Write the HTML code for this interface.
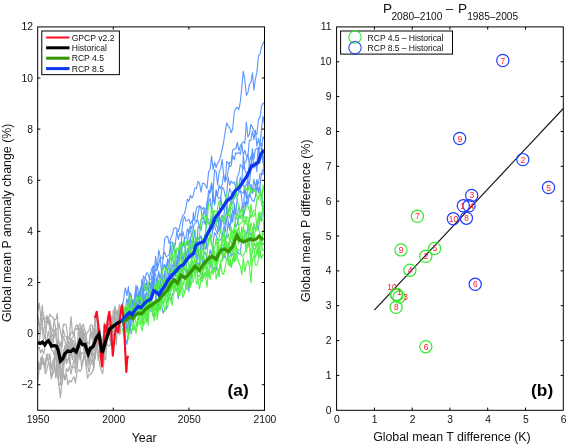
<!DOCTYPE html>
<html><head><meta charset="utf-8"><title>Figure</title>
<style>
html,body{margin:0;padding:0;background:#fff}
svg{display:block;will-change:transform;opacity:0.999}
text{font-family:"Liberation Sans",Arial,Helvetica,sans-serif;fill:#111}
.tk{font-size:10.3px}
.lb{font-size:12.4px}
.lg{font-size:8.6px}
.pn{font-size:17.3px;font-weight:bold;fill:#000}
.rd{font-size:8.4px;fill:#ff1a2e}
.tt{font-size:13.6px}
.sb{font-size:10.2px}
</style></head><body>
<svg width="568" height="445" viewBox="0 0 568 445">
<defs><filter id="soft" x="-5%" y="-5%" width="110%" height="110%"><feGaussianBlur stdDeviation="0.35"/></filter></defs>
<rect width="568" height="445" fill="#fff"/>
<g id="panel-a-lines">
<g filter="url(#soft)">
<polyline points="37.7,381.4 39.2,368.6 40.7,362.8 42.2,364.2 43.7,364.1 45.3,363.2 46.8,355.8 48.3,360.8 49.8,367.0 51.3,378.8 52.8,367.8 54.3,363.4 55.8,377.1 57.4,369.4 58.9,384.7 60.4,384.7 61.9,384.7 63.4,374.2 64.9,379.9 66.4,374.0 67.9,384.7 69.5,380.5 71.0,382.0 72.5,379.0 74.0,376.8 75.5,383.1 77.0,371.3 78.5,369.7 80.0,371.6 81.5,369.2 83.1,359.5 84.6,354.7 86.1,366.3 87.6,378.2 89.1,374.5 90.6,374.4 92.1,372.2 93.6,368.7 95.2,355.5 96.7,345.4 98.2,340.6 99.7,350.2 101.2,363.0 102.7,355.0 104.2,358.2 105.7,359.5 107.3,332.5 108.8,323.2 110.3,333.4 111.8,340.6 113.3,335.4 114.8,310.2 116.3,314.7 117.8,317.0 119.3,327.9 120.9,306.2" fill="none" stroke="#acacac" stroke-width="1.2" stroke-linejoin="round"/>
<polyline points="37.7,361.4 39.2,368.5 40.7,357.9 42.2,359.8 43.7,359.2 45.3,373.7 46.8,370.5 48.3,362.9 49.8,363.5 51.3,376.6 52.8,374.7 54.3,367.4 55.8,350.4 57.4,372.0 58.9,384.7 60.4,397.5 61.9,382.2 63.4,372.0 64.9,356.2 66.4,363.7 67.9,359.0 69.5,356.1 71.0,366.3 72.5,368.0 74.0,366.8 75.5,366.8 77.0,369.3 78.5,355.2 80.0,327.4 81.5,335.1 83.1,341.2 84.6,357.7 86.1,360.2 87.6,364.9 89.1,372.5 90.6,363.6 92.1,361.5 93.6,353.2 95.2,358.7 96.7,343.3 98.2,330.2 99.7,339.1 101.2,336.2 102.7,365.9 104.2,343.6 105.7,338.5 107.3,337.4 108.8,329.5 110.3,324.8 111.8,340.1 113.3,326.9 114.8,319.7 116.3,326.6 117.8,320.5 119.3,322.5 120.9,321.4" fill="none" stroke="#acacac" stroke-width="1.2" stroke-linejoin="round"/>
<polyline points="37.7,368.6 39.2,369.4 40.7,369.3 42.2,355.2 43.7,362.6 45.3,365.1 46.8,354.1 48.3,354.7 49.8,355.8 51.3,369.2 52.8,361.6 54.3,358.1 55.8,377.8 57.4,358.2 58.9,360.9 60.4,379.8 61.9,378.8 63.4,373.1 64.9,379.9 66.4,368.6 67.9,371.4 69.5,366.2 71.0,373.9 72.5,366.2 74.0,359.6 75.5,361.1 77.0,363.4 78.5,339.2 80.0,346.7 81.5,366.6 83.1,361.3 84.6,352.1 86.1,365.2 87.6,358.6 89.1,364.0 90.6,360.1 92.1,348.9 93.6,369.8 95.2,345.1 96.7,340.4 98.2,360.2 99.7,355.1 101.2,356.2 102.7,364.3 104.2,345.4 105.7,339.1 107.3,335.1 108.8,336.4 110.3,328.8 111.8,328.2 113.3,332.1 114.8,319.3 116.3,318.3 117.8,321.1 119.3,319.5 120.9,334.3" fill="none" stroke="#acacac" stroke-width="1.2" stroke-linejoin="round"/>
<polyline points="37.7,361.2 39.2,369.1 40.7,367.2 42.2,360.9 43.7,364.5 45.3,369.2 46.8,354.6 48.3,360.7 49.8,353.8 51.3,367.4 52.8,363.6 54.3,358.2 55.8,344.4 57.4,362.1 58.9,384.7 60.4,384.7 61.9,370.7 63.4,363.7 64.9,357.6 66.4,351.4 67.9,343.6 69.5,363.9 71.0,338.9 72.5,340.8 74.0,353.4 75.5,372.5 77.0,355.5 78.5,345.1 80.0,359.7 81.5,352.5 83.1,353.5 84.6,354.2 86.1,349.3 87.6,359.7 89.1,358.4 90.6,359.0 92.1,363.5 93.6,365.3 95.2,352.4 96.7,345.3 98.2,351.3 99.7,365.2 101.2,370.4 102.7,373.8 104.2,358.4 105.7,339.5 107.3,345.0 108.8,345.9 110.3,345.3 111.8,324.3 113.3,326.8 114.8,324.8 116.3,318.4 117.8,322.5 119.3,323.5 120.9,328.7" fill="none" stroke="#acacac" stroke-width="1.2" stroke-linejoin="round"/>
<polyline points="37.7,348.7 39.2,347.2 40.7,352.8 42.2,349.4 43.7,353.9 45.3,345.5 46.8,340.8 48.3,338.6 49.8,339.2 51.3,349.1 52.8,351.2 54.3,355.0 55.8,344.4 57.4,354.2 58.9,340.2 60.4,376.6 61.9,369.2 63.4,365.1 64.9,352.8 66.4,357.0 67.9,346.6 69.5,352.7 71.0,340.8 72.5,348.8 74.0,346.9 75.5,343.9 77.0,356.3 78.5,345.8 80.0,339.0 81.5,339.8 83.1,329.1 84.6,345.0 86.1,340.7 87.6,350.1 89.1,365.4 90.6,347.3 92.1,352.0 93.6,349.9 95.2,340.2 96.7,344.0 98.2,334.9 99.7,344.5 101.2,351.8 102.7,364.5 104.2,352.8 105.7,339.6 107.3,337.8 108.8,337.4 110.3,340.9 111.8,327.7 113.3,335.7 114.8,328.0 116.3,321.6 117.8,324.3 119.3,332.9 120.9,324.8" fill="none" stroke="#acacac" stroke-width="1.2" stroke-linejoin="round"/>
<polyline points="37.7,334.9 39.2,330.3 40.7,315.2 42.2,323.6 43.7,332.5 45.3,340.1 46.8,315.4 48.3,319.2 49.8,329.2 51.3,343.8 52.8,343.7 54.3,334.0 55.8,328.9 57.4,361.1 58.9,345.0 60.4,377.5 61.9,373.4 63.4,350.2 64.9,349.0 66.4,348.0 67.9,339.6 69.5,346.7 71.0,355.3 72.5,340.3 74.0,341.5 75.5,354.3 77.0,353.9 78.5,340.6 80.0,342.0 81.5,339.4 83.1,335.9 84.6,354.0 86.1,351.3 87.6,347.1 89.1,354.8 90.6,347.9 92.1,345.2 93.6,339.6 95.2,328.7 96.7,344.4 98.2,329.0 99.7,336.3 101.2,339.6 102.7,364.3 104.2,347.1 105.7,341.9 107.3,325.7 108.8,335.8 110.3,331.0 111.8,319.4 113.3,330.8 114.8,324.8 116.3,344.9 117.8,321.4 119.3,334.8 120.9,326.5" fill="none" stroke="#acacac" stroke-width="1.2" stroke-linejoin="round"/>
<polyline points="37.7,342.9 39.2,343.4 40.7,328.1 42.2,327.6 43.7,344.5 45.3,344.8 46.8,339.2 48.3,331.4 49.8,340.4 51.3,331.8 52.8,336.1 54.3,337.4 55.8,332.6 57.4,341.7 58.9,370.9 60.4,367.9 61.9,356.7 63.4,352.7 64.9,345.7 66.4,360.8 67.9,360.8 69.5,353.9 71.0,353.8 72.5,359.7 74.0,344.0 75.5,362.6 77.0,346.9 78.5,346.0 80.0,338.4 81.5,335.2 83.1,343.0 84.6,333.3 86.1,349.6 87.6,342.6 89.1,343.2 90.6,333.9 92.1,332.0 93.6,337.0 95.2,318.3 96.7,336.3 98.2,334.6 99.7,328.5 101.2,347.7 102.7,357.3 104.2,322.9 105.7,337.1 107.3,334.7 108.8,335.8 110.3,320.1 111.8,317.6 113.3,323.8 114.8,329.6 116.3,330.8 117.8,321.3 119.3,325.2 120.9,330.3" fill="none" stroke="#acacac" stroke-width="1.2" stroke-linejoin="round"/>
<polyline points="37.7,324.9 39.2,323.5 40.7,325.5 42.2,321.3 43.7,315.3 45.3,332.8 46.8,322.4 48.3,317.0 49.8,324.3 51.3,335.5 52.8,342.7 54.3,329.3 55.8,332.0 57.4,350.1 58.9,357.7 60.4,342.3 61.9,347.7 63.4,336.1 64.9,340.9 66.4,347.8 67.9,337.5 69.5,339.4 71.0,332.1 72.5,332.8 74.0,333.2 75.5,342.5 77.0,349.0 78.5,328.6 80.0,339.4 81.5,326.8 83.1,330.7 84.6,335.6 86.1,348.5 87.6,346.9 89.1,357.4 90.6,349.4 92.1,350.7 93.6,336.7 95.2,333.9 96.7,347.6 98.2,322.0 99.7,345.8 101.2,344.3 102.7,343.3 104.2,347.1 105.7,332.7 107.3,335.3 108.8,330.0 110.3,335.5 111.8,331.4 113.3,310.1 114.8,311.4 116.3,327.2 117.8,310.0 119.3,311.3 120.9,308.6" fill="none" stroke="#acacac" stroke-width="1.2" stroke-linejoin="round"/>
<polyline points="37.7,314.0 39.2,325.9 40.7,330.0 42.2,305.1 43.7,318.7 45.3,322.3 46.8,321.2 48.3,319.4 49.8,314.2 51.3,316.4 52.8,317.0 54.3,320.8 55.8,329.1 57.4,329.2 58.9,323.1 60.4,331.2 61.9,338.4 63.4,330.1 64.9,336.3 66.4,336.9 67.9,344.3 69.5,343.3 71.0,338.4 72.5,337.7 74.0,334.1 75.5,326.6 77.0,324.7 78.5,329.8 80.0,328.3 81.5,332.6 83.1,338.5 84.6,333.6 86.1,334.9 87.6,332.0 89.1,329.8 90.6,324.9 92.1,325.0 93.6,335.3 95.2,317.1 96.7,318.3 98.2,327.3 99.7,332.9 101.2,339.4 102.7,341.6 104.2,326.9 105.7,324.7 107.3,322.0 108.8,319.9 110.3,314.3 111.8,318.8 113.3,316.9 114.8,320.5 116.3,329.8 117.8,316.4 119.3,304.7 120.9,321.0" fill="none" stroke="#acacac" stroke-width="1.2" stroke-linejoin="round"/>
<polyline points="37.7,311.1 39.2,303.0 40.7,316.1 42.2,312.1 43.7,319.0 45.3,318.0 46.8,320.0 48.3,324.1 49.8,319.8 51.3,327.6 52.8,331.8 54.3,319.4 55.8,319.7 57.4,313.5 58.9,351.8 60.4,366.2 61.9,336.4 63.4,324.5 64.9,324.2 66.4,326.2 67.9,338.6 69.5,336.1 71.0,316.5 72.5,333.6 74.0,332.0 75.5,328.3 77.0,329.6 78.5,326.8 80.0,323.6 81.5,328.9 83.1,324.0 84.6,329.0 86.1,335.5 87.6,345.9 89.1,351.5 90.6,328.6 92.1,339.5 93.6,333.4 95.2,335.3 96.7,340.1 98.2,338.1 99.7,330.0 101.2,349.2 102.7,345.1 104.2,344.5 105.7,333.6 107.3,325.9 108.8,329.5 110.3,322.7 111.8,328.7 113.3,319.0 114.8,306.2 116.3,311.3 117.8,318.2 119.3,313.0 120.9,310.4" fill="none" stroke="#acacac" stroke-width="1.2" stroke-linejoin="round"/>
<polyline points="122.4,304.7 123.9,331.1 125.4,338.7 126.9,344.4 128.4,333.6 129.9,313.6 131.4,298.2 133.0,310.2 134.5,310.6 136.0,304.3 137.5,308.9 139.0,299.4 140.5,303.6 142.0,300.3 143.5,299.8 145.1,310.6 146.6,308.6 148.1,318.0 149.6,297.7 151.1,311.6 152.6,310.9 154.1,303.3 155.6,300.7 157.1,302.8 158.7,310.7 160.2,305.6 161.7,306.7 163.2,313.3 164.7,308.9 166.2,309.5 167.7,295.2 169.2,297.0 170.8,301.1 172.3,294.9 173.8,291.6 175.3,290.4 176.8,288.2 178.3,298.9 179.8,284.7 181.3,273.2 182.9,269.5 184.4,268.4 185.9,269.8 187.4,258.3 188.9,264.3 190.4,276.3 191.9,271.6 193.4,272.0 194.9,269.4 196.5,267.3 198.0,267.5 199.5,262.5 201.0,274.9 202.5,277.2 204.0,273.6 205.5,273.2 207.0,275.8 208.6,273.0 210.1,266.6 211.6,257.6 213.1,269.4 214.6,267.4 216.1,270.4 217.6,261.0 219.1,256.0 220.7,247.8 222.2,247.4 223.7,258.3 225.2,255.5 226.7,260.6 228.2,258.6 229.7,246.5 231.2,256.6 232.7,253.7 234.3,255.8 235.8,253.7 237.3,250.6 238.8,253.8 240.3,254.3 241.8,237.2 243.3,238.6 244.8,236.5 246.4,234.0 247.9,226.8 249.4,231.8 250.9,234.7 252.4,239.9 253.9,224.4 255.4,229.2 256.9,226.3 258.5,228.7 260.0,215.7 261.5,220.9 263.0,203.5 264.5,218.8" fill="none" stroke="#5a96ff" stroke-width="1.1" stroke-linejoin="round"/>
<polyline points="122.4,327.0 123.9,322.5 125.4,313.4 126.9,319.0 128.4,313.0 129.9,312.0 131.4,314.4 133.0,314.0 134.5,308.6 136.0,311.8 137.5,300.5 139.0,314.9 140.5,304.4 142.0,314.1 143.5,296.3 145.1,299.6 146.6,312.2 148.1,325.4 149.6,302.1 151.1,307.0 152.6,302.0 154.1,306.7 155.6,300.7 157.1,319.6 158.7,308.3 160.2,296.5 161.7,299.8 163.2,296.2 164.7,295.0 166.2,293.6 167.7,289.4 169.2,291.1 170.8,290.9 172.3,286.7 173.8,288.6 175.3,278.4 176.8,284.2 178.3,282.3 179.8,277.2 181.3,277.0 182.9,267.2 184.4,267.2 185.9,262.7 187.4,278.8 188.9,272.4 190.4,287.2 191.9,268.5 193.4,270.5 194.9,271.6 196.5,265.0 198.0,276.7 199.5,275.0 201.0,280.4 202.5,274.8 204.0,261.4 205.5,262.6 207.0,271.7 208.6,273.0 210.1,258.6 211.6,259.9 213.1,272.2 214.6,270.1 216.1,265.2 217.6,268.9 219.1,269.7 220.7,260.8 222.2,261.1 223.7,256.2 225.2,253.2 226.7,241.0 228.2,264.9 229.7,260.3 231.2,267.5 232.7,258.1 234.3,262.4 235.8,242.6 237.3,256.5 238.8,263.1 240.3,265.8 241.8,274.7 243.3,257.8 244.8,271.6 246.4,264.4 247.9,260.4 249.4,266.2 250.9,282.7 252.4,260.9 253.9,255.2 255.4,265.4 256.9,265.2 258.5,259.4 260.0,251.3 261.5,258.3 263.0,254.5 264.5,255.1" fill="none" stroke="#52f046" stroke-width="1.1" stroke-linejoin="round"/>
<polyline points="122.4,322.9 123.9,321.9 125.4,310.5 126.9,314.5 128.4,308.9 129.9,303.3 131.4,314.7 133.0,300.0 134.5,306.9 136.0,302.2 137.5,310.1 139.0,310.4 140.5,309.8 142.0,304.8 143.5,304.2 145.1,298.5 146.6,304.9 148.1,297.3 149.6,282.3 151.1,284.1 152.6,291.0 154.1,279.4 155.6,286.1 157.1,290.4 158.7,285.6 160.2,293.9 161.7,286.0 163.2,281.9 164.7,280.1 166.2,281.9 167.7,290.5 169.2,287.4 170.8,276.3 172.3,278.9 173.8,264.8 175.3,272.0 176.8,274.7 178.3,278.2 179.8,277.6 181.3,268.1 182.9,273.5 184.4,278.1 185.9,278.9 187.4,269.3 188.9,291.8 190.4,270.8 191.9,278.5 193.4,267.5 194.9,273.5 196.5,259.5 198.0,266.1 199.5,262.3 201.0,252.1 202.5,264.4 204.0,253.7 205.5,252.5 207.0,260.1 208.6,263.9 210.1,249.9 211.6,255.6 213.1,242.6 214.6,232.7 216.1,235.3 217.6,240.0 219.1,240.3 220.7,239.9 222.2,235.6 223.7,227.0 225.2,241.1 226.7,235.3 228.2,222.3 229.7,230.5 231.2,213.5 232.7,222.1 234.3,206.5 235.8,227.0 237.3,224.3 238.8,216.1 240.3,218.1 241.8,214.6 243.3,216.7 244.8,210.7 246.4,200.6 247.9,204.8 249.4,193.3 250.9,196.9 252.4,200.7 253.9,201.5 255.4,196.7 256.9,186.2 258.5,192.8 260.0,187.9 261.5,194.5 263.0,202.8 264.5,201.8" fill="none" stroke="#5a96ff" stroke-width="1.1" stroke-linejoin="round"/>
<polyline points="122.4,322.7 123.9,317.4 125.4,321.6 126.9,329.8 128.4,332.4 129.9,314.9 131.4,320.2 133.0,317.0 134.5,329.4 136.0,327.2 137.5,319.0 139.0,315.3 140.5,315.3 142.0,318.2 143.5,325.6 145.1,321.4 146.6,315.6 148.1,312.0 149.6,309.6 151.1,303.2 152.6,306.0 154.1,320.8 155.6,314.2 157.1,312.6 158.7,304.7 160.2,298.8 161.7,306.9 163.2,292.3 164.7,293.4 166.2,303.8 167.7,298.3 169.2,287.0 170.8,291.8 172.3,287.7 173.8,282.6 175.3,286.4 176.8,284.4 178.3,290.5 179.8,295.5 181.3,285.8 182.9,297.5 184.4,293.3 185.9,286.6 187.4,286.4 188.9,284.6 190.4,286.8 191.9,281.8 193.4,265.2 194.9,269.3 196.5,284.0 198.0,281.1 199.5,288.8 201.0,280.2 202.5,281.5 204.0,272.9 205.5,277.0 207.0,287.3 208.6,270.9 210.1,279.2 211.6,270.0 213.1,274.4 214.6,269.9 216.1,270.0 217.6,271.1 219.1,276.9 220.7,262.6 222.2,273.7 223.7,274.3 225.2,266.8 226.7,259.7 228.2,256.2 229.7,266.2 231.2,265.0 232.7,261.9 234.3,252.9 235.8,261.2 237.3,248.9 238.8,249.9 240.3,251.4 241.8,256.3 243.3,255.9 244.8,253.0 246.4,248.5 247.9,247.4 249.4,240.7 250.9,266.0 252.4,245.8 253.9,249.4 255.4,257.7 256.9,253.2 258.5,249.8 260.0,238.4 261.5,246.0 263.0,250.8 264.5,249.3" fill="none" stroke="#52f046" stroke-width="1.1" stroke-linejoin="round"/>
<polyline points="122.4,307.0 123.9,296.9 125.4,287.9 126.9,295.7 128.4,286.5 129.9,305.3 131.4,303.3 133.0,305.0 134.5,299.9 136.0,298.2 137.5,302.0 139.0,296.8 140.5,291.4 142.0,290.2 143.5,306.3 145.1,303.8 146.6,302.4 148.1,305.3 149.6,293.6 151.1,293.2 152.6,289.3 154.1,276.8 155.6,293.4 157.1,302.0 158.7,302.2 160.2,287.3 161.7,271.1 163.2,288.8 164.7,270.7 166.2,281.7 167.7,279.4 169.2,272.7 170.8,268.4 172.3,278.0 173.8,275.8 175.3,274.6 176.8,261.5 178.3,258.7 179.8,264.0 181.3,267.4 182.9,268.4 184.4,264.1 185.9,253.8 187.4,253.5 188.9,250.1 190.4,250.6 191.9,258.2 193.4,254.2 194.9,241.9 196.5,262.9 198.0,263.4 199.5,263.9 201.0,241.2 202.5,250.6 204.0,246.4 205.5,238.6 207.0,249.2 208.6,240.2 210.1,236.3 211.6,237.5 213.1,226.5 214.6,226.5 216.1,230.6 217.6,234.4 219.1,214.9 220.7,223.4 222.2,219.5 223.7,222.6 225.2,224.3 226.7,207.9 228.2,221.5 229.7,225.6 231.2,222.4 232.7,209.9 234.3,214.4 235.8,212.9 237.3,215.8 238.8,205.6 240.3,211.6 241.8,211.2 243.3,208.9 244.8,201.7 246.4,205.0 247.9,195.0 249.4,196.8 250.9,188.1 252.4,193.4 253.9,188.3 255.4,190.2 256.9,179.9 258.5,183.9 260.0,173.7 261.5,174.1 263.0,169.2 264.5,169.5" fill="none" stroke="#5a96ff" stroke-width="1.1" stroke-linejoin="round"/>
<polyline points="122.4,312.4 123.9,323.3 125.4,335.5 126.9,324.8 128.4,329.3 129.9,325.0 131.4,325.6 133.0,316.4 134.5,312.9 136.0,305.5 137.5,313.0 139.0,317.1 140.5,309.5 142.0,310.8 143.5,323.5 145.1,302.1 146.6,322.5 148.1,313.9 149.6,309.9 151.1,303.8 152.6,308.8 154.1,318.0 155.6,299.6 157.1,301.7 158.7,303.9 160.2,310.1 161.7,298.8 163.2,300.3 164.7,311.6 166.2,304.4 167.7,307.6 169.2,293.3 170.8,300.6 172.3,305.2 173.8,288.8 175.3,287.3 176.8,291.1 178.3,295.4 179.8,264.6 181.3,273.9 182.9,278.7 184.4,278.4 185.9,288.3 187.4,289.6 188.9,275.3 190.4,280.9 191.9,282.3 193.4,281.5 194.9,271.2 196.5,268.3 198.0,268.0 199.5,271.4 201.0,273.0 202.5,279.2 204.0,277.5 205.5,271.5 207.0,277.0 208.6,275.8 210.1,272.4 211.6,271.5 213.1,259.1 214.6,256.2 216.1,279.2 217.6,273.2 219.1,269.5 220.7,261.2 222.2,258.9 223.7,253.1 225.2,255.8 226.7,242.4 228.2,257.4 229.7,255.5 231.2,267.2 232.7,260.3 234.3,248.0 235.8,233.8 237.3,239.0 238.8,244.0 240.3,234.3 241.8,234.0 243.3,243.6 244.8,241.3 246.4,251.7 247.9,237.6 249.4,232.1 250.9,240.0 252.4,246.2 253.9,248.7 255.4,249.3 256.9,243.8 258.5,242.0 260.0,257.5 261.5,243.2 263.0,244.9 264.5,241.9" fill="none" stroke="#52f046" stroke-width="1.1" stroke-linejoin="round"/>
<polyline points="122.4,303.5 123.9,313.1 125.4,319.1 126.9,309.8 128.4,309.7 129.9,300.7 131.4,299.9 133.0,308.0 134.5,307.6 136.0,290.9 137.5,297.4 139.0,302.7 140.5,287.9 142.0,289.0 143.5,284.9 145.1,279.5 146.6,280.0 148.1,285.5 149.6,282.9 151.1,290.5 152.6,288.2 154.1,283.4 155.6,289.7 157.1,288.8 158.7,290.7 160.2,287.2 161.7,294.0 163.2,287.3 164.7,291.6 166.2,289.4 167.7,277.4 169.2,272.9 170.8,276.7 172.3,272.5 173.8,264.2 175.3,276.7 176.8,265.4 178.3,259.8 179.8,249.7 181.3,256.6 182.9,264.4 184.4,256.1 185.9,243.0 187.4,241.8 188.9,247.1 190.4,238.7 191.9,245.1 193.4,240.4 194.9,246.8 196.5,238.3 198.0,259.4 199.5,237.5 201.0,236.0 202.5,239.4 204.0,247.5 205.5,249.3 207.0,238.6 208.6,232.3 210.1,232.3 211.6,228.4 213.1,214.5 214.6,222.1 216.1,225.1 217.6,228.1 219.1,231.6 220.7,219.1 222.2,215.0 223.7,222.5 225.2,232.2 226.7,219.3 228.2,211.3 229.7,210.0 231.2,204.8 232.7,191.8 234.3,196.8 235.8,190.2 237.3,184.9 238.8,192.5 240.3,189.9 241.8,198.0 243.3,216.5 244.8,185.6 246.4,184.9 247.9,179.6 249.4,187.9 250.9,184.2 252.4,192.0 253.9,179.1 255.4,187.4 256.9,179.7 258.5,191.4 260.0,185.6 261.5,173.5 263.0,174.6 264.5,161.3" fill="none" stroke="#5a96ff" stroke-width="1.1" stroke-linejoin="round"/>
<polyline points="122.4,315.6 123.9,314.6 125.4,310.0 126.9,316.3 128.4,308.3 129.9,313.9 131.4,318.5 133.0,299.2 134.5,308.0 136.0,297.6 137.5,310.0 139.0,306.6 140.5,310.2 142.0,315.4 143.5,312.4 145.1,311.2 146.6,301.8 148.1,304.6 149.6,304.1 151.1,298.7 152.6,306.9 154.1,307.5 155.6,300.2 157.1,312.4 158.7,302.6 160.2,300.3 161.7,300.2 163.2,298.9 164.7,299.0 166.2,286.3 167.7,292.4 169.2,289.1 170.8,295.1 172.3,294.0 173.8,294.0 175.3,280.4 176.8,285.4 178.3,295.7 179.8,288.2 181.3,278.6 182.9,286.0 184.4,278.9 185.9,276.0 187.4,274.9 188.9,273.6 190.4,276.7 191.9,262.0 193.4,263.2 194.9,259.9 196.5,270.1 198.0,281.1 199.5,279.0 201.0,279.2 202.5,275.6 204.0,256.9 205.5,263.9 207.0,257.8 208.6,255.7 210.1,265.2 211.6,256.4 213.1,249.8 214.6,261.3 216.1,260.1 217.6,249.5 219.1,251.3 220.7,245.1 222.2,244.0 223.7,247.9 225.2,251.3 226.7,245.8 228.2,251.5 229.7,251.5 231.2,254.3 232.7,251.2 234.3,245.7 235.8,233.6 237.3,232.8 238.8,225.9 240.3,239.2 241.8,240.4 243.3,239.8 244.8,229.5 246.4,240.9 247.9,226.7 249.4,245.2 250.9,255.4 252.4,254.1 253.9,242.0 255.4,246.0 256.9,254.4 258.5,243.2 260.0,240.5 261.5,245.7 263.0,230.3 264.5,226.4" fill="none" stroke="#52f046" stroke-width="1.1" stroke-linejoin="round"/>
<polyline points="122.4,330.5 123.9,326.2 125.4,329.4 126.9,316.5 128.4,313.8 129.9,328.2 131.4,313.3 133.0,301.7 134.5,309.4 136.0,304.8 137.5,307.5 139.0,304.8 140.5,298.5 142.0,293.7 143.5,303.0 145.1,293.5 146.6,297.1 148.1,301.8 149.6,304.3 151.1,283.1 152.6,295.5 154.1,284.1 155.6,289.4 157.1,292.4 158.7,296.8 160.2,283.4 161.7,285.5 163.2,285.2 164.7,277.1 166.2,281.7 167.7,267.7 169.2,268.8 170.8,274.2 172.3,280.3 173.8,271.5 175.3,267.1 176.8,264.6 178.3,258.1 179.8,265.2 181.3,267.3 182.9,253.8 184.4,263.5 185.9,259.7 187.4,260.0 188.9,240.5 190.4,250.6 191.9,242.3 193.4,249.1 194.9,241.3 196.5,245.7 198.0,237.2 199.5,239.0 201.0,236.8 202.5,246.0 204.0,239.6 205.5,233.0 207.0,222.0 208.6,223.3 210.1,227.2 211.6,225.1 213.1,229.5 214.6,222.4 216.1,214.1 217.6,221.6 219.1,212.2 220.7,229.8 222.2,218.8 223.7,217.1 225.2,204.2 226.7,196.3 228.2,215.1 229.7,206.5 231.2,198.6 232.7,203.2 234.3,203.5 235.8,213.4 237.3,196.9 238.8,191.7 240.3,190.7 241.8,192.4 243.3,193.3 244.8,186.4 246.4,199.1 247.9,182.9 249.4,183.8 250.9,169.5 252.4,151.4 253.9,168.1 255.4,161.6 256.9,171.8 258.5,147.3 260.0,157.0 261.5,153.2 263.0,161.7 264.5,171.8" fill="none" stroke="#5a96ff" stroke-width="1.1" stroke-linejoin="round"/>
<polyline points="122.4,322.5 123.9,320.6 125.4,327.1 126.9,331.5 128.4,322.8 129.9,321.8 131.4,322.5 133.0,330.3 134.5,324.6 136.0,333.4 137.5,321.6 139.0,324.2 140.5,322.4 142.0,315.5 143.5,310.9 145.1,317.7 146.6,304.7 148.1,305.2 149.6,297.7 151.1,300.5 152.6,316.0 154.1,316.1 155.6,307.6 157.1,312.5 158.7,309.4 160.2,299.6 161.7,297.7 163.2,304.8 164.7,300.5 166.2,295.2 167.7,297.3 169.2,285.6 170.8,289.9 172.3,281.7 173.8,288.3 175.3,289.3 176.8,288.5 178.3,284.5 179.8,282.3 181.3,283.7 182.9,289.4 184.4,293.4 185.9,288.5 187.4,276.3 188.9,270.0 190.4,274.3 191.9,266.2 193.4,265.6 194.9,270.0 196.5,264.0 198.0,264.2 199.5,269.8 201.0,273.0 202.5,270.2 204.0,269.7 205.5,265.6 207.0,273.5 208.6,257.8 210.1,260.4 211.6,259.1 213.1,256.2 214.6,265.0 216.1,264.7 217.6,253.1 219.1,253.7 220.7,246.4 222.2,242.1 223.7,239.8 225.2,255.8 226.7,250.5 228.2,242.2 229.7,245.1 231.2,251.0 232.7,251.6 234.3,232.8 235.8,231.4 237.3,231.4 238.8,238.2 240.3,237.1 241.8,226.9 243.3,241.7 244.8,238.4 246.4,245.7 247.9,244.9 249.4,242.5 250.9,237.4 252.4,246.9 253.9,244.1 255.4,245.6 256.9,242.0 258.5,257.4 260.0,244.6 261.5,242.3 263.0,244.3 264.5,244.1" fill="none" stroke="#52f046" stroke-width="1.1" stroke-linejoin="round"/>
<polyline points="122.4,325.1 123.9,311.5 125.4,311.9 126.9,316.1 128.4,316.5 129.9,315.3 131.4,310.8 133.0,310.4 134.5,298.5 136.0,285.0 137.5,298.6 139.0,303.6 140.5,294.9 142.0,280.9 143.5,294.3 145.1,300.4 146.6,292.2 148.1,296.0 149.6,277.0 151.1,271.2 152.6,266.4 154.1,281.0 155.6,279.7 157.1,280.0 158.7,273.4 160.2,279.3 161.7,270.6 163.2,269.3 164.7,264.7 166.2,270.0 167.7,262.2 169.2,270.4 170.8,269.9 172.3,265.1 173.8,268.0 175.3,262.2 176.8,260.4 178.3,254.1 179.8,259.1 181.3,242.3 182.9,246.1 184.4,238.0 185.9,256.9 187.4,248.5 188.9,256.5 190.4,236.7 191.9,248.7 193.4,240.8 194.9,230.2 196.5,257.2 198.0,226.9 199.5,227.3 201.0,230.4 202.5,221.8 204.0,221.7 205.5,224.9 207.0,218.7 208.6,219.1 210.1,225.2 211.6,219.6 213.1,211.1 214.6,223.5 216.1,220.3 217.6,215.3 219.1,213.0 220.7,196.7 222.2,208.4 223.7,206.9 225.2,201.6 226.7,211.0 228.2,197.0 229.7,188.5 231.2,192.6 232.7,196.4 234.3,198.8 235.8,194.7 237.3,185.6 238.8,189.1 240.3,177.1 241.8,182.5 243.3,155.5 244.8,170.1 246.4,174.0 247.9,179.7 249.4,161.3 250.9,156.1 252.4,167.7 253.9,166.6 255.4,165.9 256.9,161.7 258.5,148.7 260.0,145.1 261.5,143.5 263.0,162.9 264.5,149.1" fill="none" stroke="#5a96ff" stroke-width="1.1" stroke-linejoin="round"/>
<polyline points="122.4,328.9 123.9,336.2 125.4,333.7 126.9,322.2 128.4,339.1 129.9,319.4 131.4,334.4 133.0,324.8 134.5,315.9 136.0,323.2 137.5,326.4 139.0,315.6 140.5,324.2 142.0,331.2 143.5,321.3 145.1,312.7 146.6,314.9 148.1,310.5 149.6,310.9 151.1,299.9 152.6,311.4 154.1,308.3 155.6,302.3 157.1,306.4 158.7,305.1 160.2,302.8 161.7,299.9 163.2,291.5 164.7,288.1 166.2,290.3 167.7,300.1 169.2,296.7 170.8,287.8 172.3,287.0 173.8,279.8 175.3,290.9 176.8,276.3 178.3,278.9 179.8,272.7 181.3,276.7 182.9,270.0 184.4,275.6 185.9,277.8 187.4,285.0 188.9,266.1 190.4,266.4 191.9,268.8 193.4,263.6 194.9,262.0 196.5,262.1 198.0,256.3 199.5,254.1 201.0,267.4 202.5,264.4 204.0,266.8 205.5,267.8 207.0,263.2 208.6,262.2 210.1,262.4 211.6,267.5 213.1,247.7 214.6,251.4 216.1,262.7 217.6,264.0 219.1,254.5 220.7,245.9 222.2,257.2 223.7,245.1 225.2,241.5 226.7,249.3 228.2,252.4 229.7,242.5 231.2,241.0 232.7,248.0 234.3,238.7 235.8,230.7 237.3,229.0 238.8,236.0 240.3,240.0 241.8,238.3 243.3,229.4 244.8,220.7 246.4,224.4 247.9,223.6 249.4,226.2 250.9,230.2 252.4,237.3 253.9,222.5 255.4,231.1 256.9,229.7 258.5,229.3 260.0,233.7 261.5,240.3 263.0,233.0 264.5,235.6" fill="none" stroke="#52f046" stroke-width="1.1" stroke-linejoin="round"/>
<polyline points="122.4,313.6 123.9,312.8 125.4,319.6 126.9,329.2 128.4,325.1 129.9,309.1 131.4,299.8 133.0,311.2 134.5,309.7 136.0,307.4 137.5,299.8 139.0,299.8 140.5,296.1 142.0,279.3 143.5,290.4 145.1,284.0 146.6,283.2 148.1,287.8 149.6,289.6 151.1,292.0 152.6,282.5 154.1,278.2 155.6,297.1 157.1,283.9 158.7,291.2 160.2,289.6 161.7,271.3 163.2,265.4 164.7,264.8 166.2,267.7 167.7,258.5 169.2,263.8 170.8,245.3 172.3,256.7 173.8,264.1 175.3,260.6 176.8,273.1 178.3,252.9 179.8,244.5 181.3,254.7 182.9,243.0 184.4,247.1 185.9,244.0 187.4,244.9 188.9,229.4 190.4,225.9 191.9,229.1 193.4,212.6 194.9,221.2 196.5,220.6 198.0,220.5 199.5,228.6 201.0,219.6 202.5,217.1 204.0,219.9 205.5,223.3 207.0,211.9 208.6,201.4 210.1,198.6 211.6,212.4 213.1,191.6 214.6,205.3 216.1,193.0 217.6,196.7 219.1,198.4 220.7,197.5 222.2,187.2 223.7,188.7 225.2,196.5 226.7,193.9 228.2,177.0 229.7,185.3 231.2,181.1 232.7,183.2 234.3,181.8 235.8,187.9 237.3,176.5 238.8,174.0 240.3,164.6 241.8,166.8 243.3,169.0 244.8,163.5 246.4,160.0 247.9,154.5 249.4,163.9 250.9,165.8 252.4,148.5 253.9,159.3 255.4,149.5 256.9,148.1 258.5,150.1 260.0,148.4 261.5,149.1 263.0,136.6 264.5,140.0" fill="none" stroke="#5a96ff" stroke-width="1.1" stroke-linejoin="round"/>
<polyline points="122.4,316.2 123.9,309.2 125.4,320.0 126.9,320.8 128.4,321.3 129.9,318.1 131.4,302.8 133.0,315.4 134.5,307.5 136.0,305.3 137.5,302.5 139.0,305.7 140.5,313.3 142.0,324.6 143.5,312.9 145.1,313.1 146.6,296.8 148.1,310.1 149.6,304.0 151.1,306.8 152.6,301.5 154.1,305.2 155.6,298.6 157.1,281.9 158.7,287.2 160.2,300.0 161.7,288.6 163.2,287.8 164.7,285.7 166.2,282.8 167.7,285.3 169.2,292.1 170.8,276.8 172.3,271.1 173.8,276.1 175.3,270.3 176.8,266.3 178.3,275.9 179.8,255.7 181.3,257.3 182.9,254.2 184.4,256.3 185.9,263.8 187.4,260.3 188.9,264.1 190.4,268.6 191.9,258.0 193.4,265.7 194.9,257.8 196.5,249.7 198.0,255.0 199.5,254.3 201.0,254.6 202.5,249.0 204.0,250.6 205.5,253.7 207.0,255.6 208.6,239.8 210.1,236.6 211.6,246.3 213.1,245.8 214.6,256.5 216.1,261.8 217.6,242.4 219.1,250.8 220.7,249.8 222.2,238.6 223.7,234.6 225.2,249.5 226.7,248.0 228.2,247.9 229.7,240.1 231.2,239.0 232.7,230.1 234.3,234.3 235.8,219.0 237.3,212.8 238.8,217.7 240.3,212.6 241.8,206.7 243.3,221.6 244.8,222.6 246.4,216.9 247.9,217.2 249.4,230.5 250.9,223.0 252.4,228.8 253.9,240.2 255.4,230.0 256.9,229.5 258.5,219.6 260.0,211.9 261.5,218.3 263.0,219.8 264.5,233.2" fill="none" stroke="#52f046" stroke-width="1.1" stroke-linejoin="round"/>
<polyline points="122.4,303.0 123.9,317.3 125.4,309.8 126.9,298.6 128.4,305.1 129.9,300.1 131.4,306.2 133.0,301.4 134.5,310.9 136.0,293.8 137.5,303.4 139.0,295.9 140.5,288.0 142.0,288.0 143.5,293.0 145.1,289.7 146.6,287.2 148.1,291.0 149.6,302.4 151.1,288.5 152.6,280.3 154.1,269.9 155.6,275.0 157.1,284.0 158.7,271.1 160.2,280.1 161.7,288.3 163.2,277.8 164.7,272.5 166.2,266.9 167.7,272.3 169.2,278.3 170.8,266.3 172.3,255.6 173.8,242.9 175.3,251.0 176.8,257.8 178.3,259.1 179.8,258.9 181.3,240.2 182.9,231.5 184.4,238.1 185.9,238.6 187.4,228.8 188.9,233.8 190.4,228.8 191.9,237.5 193.4,226.8 194.9,223.1 196.5,222.5 198.0,213.8 199.5,206.6 201.0,208.5 202.5,219.1 204.0,210.3 205.5,209.3 207.0,206.8 208.6,190.3 210.1,193.0 211.6,186.4 213.1,199.0 214.6,204.1 216.1,189.9 217.6,195.2 219.1,185.3 220.7,188.7 222.2,183.9 223.7,174.3 225.2,182.1 226.7,161.6 228.2,162.7 229.7,166.4 231.2,166.0 232.7,155.3 234.3,159.9 235.8,152.7 237.3,153.6 238.8,152.3 240.3,154.5 241.8,144.2 243.3,155.1 244.8,150.2 246.4,155.9 247.9,155.5 249.4,140.0 250.9,140.5 252.4,131.0 253.9,139.7 255.4,130.1 256.9,146.3 258.5,138.2 260.0,146.4 261.5,128.6 263.0,116.2 264.5,124.7" fill="none" stroke="#5a96ff" stroke-width="1.1" stroke-linejoin="round"/>
<polyline points="122.4,319.8 123.9,313.7 125.4,322.1 126.9,309.8 128.4,329.2 129.9,308.8 131.4,318.6 133.0,311.4 134.5,317.0 136.0,309.0 137.5,307.7 139.0,304.7 140.5,306.6 142.0,307.2 143.5,309.9 145.1,305.6 146.6,305.9 148.1,306.1 149.6,290.9 151.1,309.3 152.6,304.4 154.1,304.7 155.6,300.1 157.1,302.7 158.7,297.9 160.2,293.5 161.7,293.8 163.2,293.0 164.7,293.4 166.2,287.6 167.7,291.6 169.2,279.7 170.8,277.3 172.3,273.4 173.8,267.1 175.3,268.2 176.8,276.2 178.3,277.7 179.8,274.3 181.3,269.7 182.9,259.5 184.4,269.0 185.9,273.1 187.4,274.7 188.9,280.0 190.4,269.6 191.9,251.0 193.4,258.3 194.9,241.8 196.5,251.3 198.0,250.3 199.5,249.6 201.0,255.0 202.5,258.7 204.0,247.3 205.5,238.6 207.0,233.6 208.6,242.8 210.1,233.1 211.6,242.8 213.1,246.3 214.6,248.6 216.1,238.4 217.6,249.1 219.1,237.0 220.7,228.8 222.2,242.1 223.7,229.2 225.2,239.2 226.7,238.8 228.2,233.7 229.7,242.2 231.2,226.9 232.7,240.9 234.3,226.1 235.8,219.2 237.3,217.6 238.8,225.1 240.3,223.7 241.8,222.2 243.3,220.2 244.8,216.9 246.4,220.0 247.9,227.2 249.4,220.9 250.9,204.0 252.4,216.1 253.9,216.2 255.4,211.7 256.9,228.1 258.5,212.5 260.0,221.1 261.5,216.2 263.0,207.8 264.5,207.1" fill="none" stroke="#52f046" stroke-width="1.1" stroke-linejoin="round"/>
<polyline points="122.4,319.6 123.9,319.2 125.4,318.8 126.9,317.6 128.4,317.1 129.9,333.5 131.4,309.5 133.0,322.2 134.5,302.0 136.0,305.2 137.5,296.0 139.0,304.1 140.5,302.2 142.0,293.0 143.5,290.2 145.1,288.0 146.6,282.6 148.1,289.9 149.6,283.7 151.1,284.7 152.6,276.2 154.1,281.0 155.6,256.4 157.1,270.3 158.7,250.0 160.2,256.7 161.7,275.2 163.2,255.2 164.7,252.2 166.2,256.8 167.7,255.9 169.2,254.9 170.8,241.9 172.3,242.2 173.8,250.2 175.3,244.2 176.8,230.8 178.3,239.6 179.8,233.1 181.3,236.5 182.9,221.5 184.4,216.6 185.9,221.1 187.4,220.7 188.9,219.2 190.4,224.1 191.9,220.9 193.4,219.1 194.9,218.0 196.5,208.2 198.0,206.2 199.5,205.8 201.0,206.9 202.5,209.0 204.0,207.4 205.5,217.0 207.0,202.0 208.6,197.0 210.1,189.3 211.6,182.7 213.1,191.3 214.6,169.9 216.1,171.2 217.6,185.0 219.1,172.0 220.7,168.4 222.2,159.2 223.7,176.9 225.2,180.7 226.7,178.6 228.2,170.6 229.7,162.7 231.2,161.7 232.7,149.9 234.3,149.1 235.8,148.8 237.3,142.4 238.8,150.8 240.3,145.9 241.8,143.4 243.3,141.7 244.8,143.5 246.4,122.0 247.9,137.3 249.4,134.1 250.9,124.4 252.4,127.3 253.9,130.6 255.4,133.0 256.9,134.2 258.5,119.0 260.0,117.5 261.5,106.6 263.0,103.0 264.5,104.4" fill="none" stroke="#5a96ff" stroke-width="1.1" stroke-linejoin="round"/>
<polyline points="122.4,312.2 123.9,306.3 125.4,316.8 126.9,305.9 128.4,301.3 129.9,293.6 131.4,299.4 133.0,313.8 134.5,301.4 136.0,296.4 137.5,303.4 139.0,293.2 140.5,300.2 142.0,289.8 143.5,282.3 145.1,290.2 146.6,291.0 148.1,282.5 149.6,290.2 151.1,289.4 152.6,291.3 154.1,289.0 155.6,292.7 157.1,291.6 158.7,283.6 160.2,279.8 161.7,276.9 163.2,267.2 164.7,267.7 166.2,270.5 167.7,266.0 169.2,266.7 170.8,256.5 172.3,244.0 173.8,244.9 175.3,262.4 176.8,247.9 178.3,250.7 179.8,242.5 181.3,249.2 182.9,252.5 184.4,258.8 185.9,244.9 187.4,238.9 188.9,242.5 190.4,257.6 191.9,240.7 193.4,251.4 194.9,248.0 196.5,247.2 198.0,243.3 199.5,261.7 201.0,250.9 202.5,239.3 204.0,240.5 205.5,233.0 207.0,220.1 208.6,223.4 210.1,224.9 211.6,207.5 213.1,216.8 214.6,210.8 216.1,211.6 217.6,211.3 219.1,216.7 220.7,217.6 222.2,217.3 223.7,223.6 225.2,214.4 226.7,214.3 228.2,215.6 229.7,205.2 231.2,208.7 232.7,208.2 234.3,193.1 235.8,188.8 237.3,199.1 238.8,208.2 240.3,217.6 241.8,219.2 243.3,208.8 244.8,211.3 246.4,206.5 247.9,206.0 249.4,210.5 250.9,218.3 252.4,213.6 253.9,210.6 255.4,210.6 256.9,198.6 258.5,197.1 260.0,194.5 261.5,196.7 263.0,208.2 264.5,222.6" fill="none" stroke="#52f046" stroke-width="1.1" stroke-linejoin="round"/>
<polyline points="122.4,320.8 123.9,317.9 125.4,321.7 126.9,313.1 128.4,303.7 129.9,292.3 131.4,295.6 133.0,312.1 134.5,300.7 136.0,289.9 137.5,286.3 139.0,297.2 140.5,291.3 142.0,290.1 143.5,275.7 145.1,279.0 146.6,272.7 148.1,274.2 149.6,279.1 151.1,279.5 152.6,270.9 154.1,264.7 155.6,271.0 157.1,270.0 158.7,264.1 160.2,258.0 161.7,257.6 163.2,258.6 164.7,238.5 166.2,236.6 167.7,236.4 169.2,243.7 170.8,238.1 172.3,234.7 173.8,228.2 175.3,227.7 176.8,228.8 178.3,231.6 179.8,225.7 181.3,220.0 182.9,215.4 184.4,213.6 185.9,207.8 187.4,199.2 188.9,201.1 190.4,195.3 191.9,198.1 193.4,194.9 194.9,188.0 196.5,188.4 198.0,181.3 199.5,183.4 201.0,192.2 202.5,183.4 204.0,183.3 205.5,185.3 207.0,188.5 208.6,171.7 210.1,169.5 211.6,156.1 213.1,169.4 214.6,162.2 216.1,167.5 217.6,163.3 219.1,160.9 220.7,156.3 222.2,149.3 223.7,141.4 225.2,132.0 226.7,123.1 228.2,125.8 229.7,127.8 231.2,132.8 232.7,128.5 234.3,112.2 235.8,108.5 237.3,107.3 238.8,109.7 240.3,101.9 241.8,87.3 243.3,71.2 244.8,79.6 246.4,95.5 247.9,92.6 249.4,84.4 250.9,82.5 252.4,72.9 253.9,90.2 255.4,78.9 256.9,72.4 258.5,55.8 260.0,54.1 261.5,46.8 263.0,43.7 264.5,40.6" fill="none" stroke="#5a96ff" stroke-width="1.1" stroke-linejoin="round"/>
<polyline points="122.4,314.3 123.9,308.0 125.4,312.4 126.9,319.6 128.4,306.5 129.9,299.6 131.4,305.9 133.0,312.5 134.5,304.4 136.0,299.5 137.5,297.7 139.0,319.3 140.5,312.5 142.0,298.7 143.5,309.1 145.1,298.9 146.6,299.6 148.1,292.1 149.6,290.7 151.1,304.3 152.6,290.6 154.1,289.0 155.6,283.2 157.1,293.3 158.7,280.2 160.2,285.1 161.7,289.8 163.2,278.6 164.7,282.5 166.2,269.3 167.7,271.5 169.2,272.2 170.8,272.4 172.3,253.5 173.8,257.5 175.3,266.1 176.8,269.1 178.3,263.4 179.8,264.4 181.3,248.6 182.9,241.8 184.4,243.1 185.9,251.3 187.4,253.6 188.9,244.8 190.4,246.6 191.9,243.0 193.4,230.4 194.9,230.0 196.5,241.3 198.0,239.8 199.5,235.8 201.0,219.6 202.5,214.4 204.0,220.4 205.5,213.8 207.0,221.3 208.6,203.9 210.1,204.4 211.6,206.1 213.1,211.7 214.6,220.9 216.1,226.5 217.6,207.6 219.1,200.7 220.7,204.9 222.2,204.4 223.7,209.8 225.2,200.3 226.7,193.8 228.2,213.0 229.7,218.0 231.2,200.7 232.7,199.0 234.3,192.7 235.8,193.8 237.3,181.3 238.8,188.3 240.3,183.5 241.8,184.2 243.3,185.0 244.8,189.5 246.4,188.9 247.9,191.2 249.4,185.1 250.9,193.5 252.4,189.3 253.9,192.2 255.4,189.6 256.9,196.3 258.5,199.5 260.0,189.8 261.5,205.2 263.0,185.0 264.5,192.8" fill="none" stroke="#52f046" stroke-width="1.1" stroke-linejoin="round"/>
</g>
<polyline points="94.9,318.0 96.7,311.7 98.5,327.0 100.3,350.3 102.0,366.5 103.9,339.5 104.8,325.0 106.6,332.0 108.0,318.0 109.3,311.7 111.0,328.7 112.8,355.7 114.6,336.0 116.4,327.0 118.2,332.3 120.0,318.0 121.8,305.4 123.6,318.0 124.9,345.0 126.3,371.9 127.2,359.3 128.1,355.7" fill="none" stroke="#ff0a1e" stroke-width="2.1" stroke-linejoin="round"/>
<polyline points="38.0,342.6 40.3,343.5 42.5,342.1 44.8,344.8 46.6,342.1 48.4,340.8 50.2,343.5 51.5,346.2 54.2,345.7 56.5,346.2 58.3,350.7 60.5,361.0 62.8,358.8 65.0,353.4 67.7,351.1 70.9,351.6 73.4,349.2 76.2,351.8 78.2,346.5 80.1,340.9 82.5,344.8 85.0,344.4 88.2,353.9 90.3,348.6 93.3,346.3 96.2,338.1 99.0,334.2 100.7,343.7 102.4,352.9 104.0,347.1 106.9,337.0 109.7,329.1 112.5,326.9 117.0,323.5 120.9,321.4" fill="none" stroke="#000" stroke-width="3.3" stroke-linejoin="miter"/>
<polyline points="121.2,322.0 124.1,321.2 127.4,319.2 130.1,316.5 132.8,318.5 135.5,315.1 138.2,313.1 141.6,313.8 145.0,309.8 148.3,307.1 151.7,305.0 155.1,302.3 158.4,300.3 161.1,297.0 164.5,293.2 167.4,290.3 170.7,283.9 174.1,279.7 177.5,283.1 180.8,275.5 185.0,278.0 188.4,274.7 191.8,270.5 195.1,266.2 199.4,270.5 202.7,265.4 206.1,261.2 209.5,257.8 212.0,256.4 216.1,259.1 220.8,250.3 224.9,249.0 228.2,251.7 232.3,247.0 235.0,240.2 237.0,235.5 239.7,240.2 243.1,241.6 246.4,240.9 249.8,238.9 253.2,240.2 256.5,238.9 259.2,236.2 261.9,238.9 263.6,239.5" fill="none" stroke="#359600" stroke-width="3.3" stroke-linejoin="miter"/>
<polyline points="121.2,321.4 124.1,317.8 127.4,314.5 129.5,312.5 132.2,314.5 134.8,310.4 138.2,306.4 140.9,307.7 144.3,303.7 147.0,301.0 151.0,299.0 153.7,290.9 156.4,292.2 159.1,294.9 161.8,290.2 164.5,286.6 167.4,281.2 171.6,275.5 175.8,271.3 179.2,267.1 183.4,264.6 186.7,259.5 190.1,256.1 193.5,253.6 196.0,245.2 200.2,242.7 203.6,241.8 206.9,235.1 210.3,228.4 212.5,224.5 215.1,217.8 219.1,212.8 223.1,206.7 227.2,200.6 231.2,197.6 235.3,190.5 239.3,187.5 243.3,181.4 247.4,175.4 251.4,166.3 255.5,164.3 258.5,162.2 260.5,155.2 262.9,151.1 264.0,150.6" fill="none" stroke="#0a36f0" stroke-width="3.3" stroke-linejoin="miter"/>
</g>
<g id="panel-a-axes">
<rect x="37.7" y="26.9" width="226.8" height="383.4" fill="none" stroke="#000" stroke-width="1"/>
<text x="38.1" y="422.8" text-anchor="middle" class="tk">1950</text>
<path d="M113.3 410.3v-2.7M113.3 26.9v2.7" stroke="#000" stroke-width="1"/>
<text x="113.7" y="422.8" text-anchor="middle" class="tk">2000</text>
<path d="M188.9 410.3v-2.7M188.9 26.9v2.7" stroke="#000" stroke-width="1"/>
<text x="189.3" y="422.8" text-anchor="middle" class="tk">2050</text>
<text x="264.9" y="422.8" text-anchor="middle" class="tk">2100</text>
<path d="M37.7 384.7h2.7M264.5 384.7h-2.7" stroke="#000" stroke-width="1"/>
<text x="33" y="388.2" text-anchor="end" class="tk">−2</text>
<path d="M37.7 333.6h2.7M264.5 333.6h-2.7" stroke="#000" stroke-width="1"/>
<text x="33" y="337.1" text-anchor="end" class="tk">0</text>
<path d="M37.7 282.5h2.7M264.5 282.5h-2.7" stroke="#000" stroke-width="1"/>
<text x="33" y="286.0" text-anchor="end" class="tk">2</text>
<path d="M37.7 231.4h2.7M264.5 231.4h-2.7" stroke="#000" stroke-width="1"/>
<text x="33" y="234.9" text-anchor="end" class="tk">4</text>
<path d="M37.7 180.3h2.7M264.5 180.3h-2.7" stroke="#000" stroke-width="1"/>
<text x="33" y="183.8" text-anchor="end" class="tk">6</text>
<path d="M37.7 129.1h2.7M264.5 129.1h-2.7" stroke="#000" stroke-width="1"/>
<text x="33" y="132.6" text-anchor="end" class="tk">8</text>
<path d="M37.7 78.0h2.7M264.5 78.0h-2.7" stroke="#000" stroke-width="1"/>
<text x="33" y="81.5" text-anchor="end" class="tk">10</text>
<text x="33" y="30.4" text-anchor="end" class="tk">12</text>
<text x="144.2" y="441.8" text-anchor="middle" class="lb">Year</text>
<text transform="translate(10.9 222.8) rotate(-90)" text-anchor="middle" class="lb" textLength="198.4">Global mean P anomaly change (%)</text>
<text x="227.6" y="396.4" class="pn">(a)</text>
<rect x="41.8" y="31.0" width="77.6" height="43.65" fill="#fff" stroke="#000" stroke-width="1"/>
<path d="M46.1 37.5H69.5" stroke="#ff0a1e" stroke-width="2"/>
<text x="71.7" y="40.5" class="lg">GPCP v2.2</text>
<path d="M46.1 47.8H69.5" stroke="#000" stroke-width="3"/>
<text x="71.7" y="50.8" class="lg">Historical</text>
<path d="M46.1 58.2H69.5" stroke="#359600" stroke-width="3"/>
<text x="71.7" y="61.2" class="lg">RCP 4.5</text>
<path d="M46.1 68.6H69.5" stroke="#0a36f0" stroke-width="3"/>
<text x="71.7" y="71.6" class="lg">RCP 8.5</text>
</g>
<g id="panel-b">
<rect x="336.6" y="26.9" width="226.7" height="383.4" fill="none" stroke="#000" stroke-width="1"/>
<text x="336.9" y="422.8" text-anchor="middle" class="tk">0</text>
<path d="M374.4 410.3v-2.7M374.4 26.9v2.7" stroke="#000" stroke-width="1"/>
<text x="374.7" y="422.8" text-anchor="middle" class="tk">1</text>
<path d="M412.2 410.3v-2.7M412.2 26.9v2.7" stroke="#000" stroke-width="1"/>
<text x="412.5" y="422.8" text-anchor="middle" class="tk">2</text>
<path d="M449.9 410.3v-2.7M449.9 26.9v2.7" stroke="#000" stroke-width="1"/>
<text x="450.2" y="422.8" text-anchor="middle" class="tk">3</text>
<path d="M487.7 410.3v-2.7M487.7 26.9v2.7" stroke="#000" stroke-width="1"/>
<text x="488.0" y="422.8" text-anchor="middle" class="tk">4</text>
<path d="M525.5 410.3v-2.7M525.5 26.9v2.7" stroke="#000" stroke-width="1"/>
<text x="525.8" y="422.8" text-anchor="middle" class="tk">5</text>
<text x="563.6" y="422.8" text-anchor="middle" class="tk">6</text>
<text x="331.5" y="413.8" text-anchor="end" class="tk">0</text>
<path d="M336.6 375.4h2.7M563.3 375.4h-2.7" stroke="#000" stroke-width="1"/>
<text x="331.5" y="378.9" text-anchor="end" class="tk">1</text>
<path d="M336.6 340.6h2.7M563.3 340.6h-2.7" stroke="#000" stroke-width="1"/>
<text x="331.5" y="344.1" text-anchor="end" class="tk">2</text>
<path d="M336.6 305.7h2.7M563.3 305.7h-2.7" stroke="#000" stroke-width="1"/>
<text x="331.5" y="309.2" text-anchor="end" class="tk">3</text>
<path d="M336.6 270.9h2.7M563.3 270.9h-2.7" stroke="#000" stroke-width="1"/>
<text x="331.5" y="274.4" text-anchor="end" class="tk">4</text>
<path d="M336.6 236.0h2.7M563.3 236.0h-2.7" stroke="#000" stroke-width="1"/>
<text x="331.5" y="239.5" text-anchor="end" class="tk">5</text>
<path d="M336.6 201.2h2.7M563.3 201.2h-2.7" stroke="#000" stroke-width="1"/>
<text x="331.5" y="204.7" text-anchor="end" class="tk">6</text>
<path d="M336.6 166.3h2.7M563.3 166.3h-2.7" stroke="#000" stroke-width="1"/>
<text x="331.5" y="169.8" text-anchor="end" class="tk">7</text>
<path d="M336.6 131.5h2.7M563.3 131.5h-2.7" stroke="#000" stroke-width="1"/>
<text x="331.5" y="135.0" text-anchor="end" class="tk">8</text>
<path d="M336.6 96.6h2.7M563.3 96.6h-2.7" stroke="#000" stroke-width="1"/>
<text x="331.5" y="100.1" text-anchor="end" class="tk">9</text>
<path d="M336.6 61.8h2.7M563.3 61.8h-2.7" stroke="#000" stroke-width="1"/>
<text x="331.5" y="65.3" text-anchor="end" class="tk">10</text>
<text x="331.5" y="30.4" text-anchor="end" class="tk">11</text>
<path d="M374.3 310.1L563.3 108.5" stroke="#111" stroke-width="1.1"/>
<circle cx="417.4" cy="216.3" r="6.1" fill="none" stroke="#35e82e" stroke-width="1.2"/>
<circle cx="401.0" cy="249.9" r="6.1" fill="none" stroke="#35e82e" stroke-width="1.2"/>
<circle cx="434.6" cy="248.4" r="6.1" fill="none" stroke="#35e82e" stroke-width="1.2"/>
<circle cx="425.8" cy="256.3" r="6.1" fill="none" stroke="#35e82e" stroke-width="1.2"/>
<circle cx="409.9" cy="270.2" r="6.1" fill="none" stroke="#35e82e" stroke-width="1.2"/>
<circle cx="396.3" cy="294.3" r="6.1" fill="none" stroke="#35e82e" stroke-width="1.2"/>
<circle cx="396.9" cy="294.9" r="6.1" fill="none" stroke="#35e82e" stroke-width="1.2"/>
<circle cx="399.1" cy="297.0" r="6.1" fill="none" stroke="#35e82e" stroke-width="1.2"/>
<circle cx="396.1" cy="307.3" r="6.1" fill="none" stroke="#35e82e" stroke-width="1.2"/>
<circle cx="425.8" cy="346.7" r="6.1" fill="none" stroke="#35e82e" stroke-width="1.2"/>
<circle cx="471.7" cy="195.4" r="6.1" fill="none" stroke="#1f3cff" stroke-width="1.2"/>
<circle cx="463.3" cy="205.8" r="6.1" fill="none" stroke="#1f3cff" stroke-width="1.2"/>
<circle cx="469.0" cy="205.8" r="6.1" fill="none" stroke="#1f3cff" stroke-width="1.2"/>
<circle cx="453.3" cy="218.8" r="6.1" fill="none" stroke="#1f3cff" stroke-width="1.2"/>
<circle cx="466.4" cy="218.2" r="6.1" fill="none" stroke="#1f3cff" stroke-width="1.2"/>
<circle cx="475.2" cy="284.3" r="6.1" fill="none" stroke="#1f3cff" stroke-width="1.2"/>
<circle cx="502.8" cy="60.5" r="6.1" fill="none" stroke="#1f3cff" stroke-width="1.2"/>
<circle cx="459.7" cy="138.5" r="6.1" fill="none" stroke="#1f3cff" stroke-width="1.2"/>
<circle cx="522.8" cy="159.6" r="6.1" fill="none" stroke="#1f3cff" stroke-width="1.2"/>
<circle cx="548.5" cy="187.5" r="6.1" fill="none" stroke="#1f3cff" stroke-width="1.2"/>
<text x="417.6" y="219.3" text-anchor="middle" class="rd">7</text>
<text x="401.2" y="252.9" text-anchor="middle" class="rd">9</text>
<text x="434.8" y="251.4" text-anchor="middle" class="rd">5</text>
<text x="426.0" y="259.3" text-anchor="middle" class="rd">2</text>
<text x="410.1" y="273.2" text-anchor="middle" class="rd">4</text>
<text x="392.0" y="290.4" text-anchor="middle" class="rd">10</text>
<text x="399.5" y="294.6" text-anchor="middle" class="rd">1</text>
<text x="405.5" y="300.0" text-anchor="middle" class="rd">3</text>
<text x="396.3" y="310.3" text-anchor="middle" class="rd">8</text>
<text x="426.0" y="349.7" text-anchor="middle" class="rd">6</text>
<text x="471.9" y="198.4" text-anchor="middle" class="rd">3</text>
<text x="462.7" y="209.0" text-anchor="middle" class="rd">1</text>
<text x="471.7" y="209.0" text-anchor="middle" class="rd">4</text>
<text x="453.5" y="221.8" text-anchor="middle" class="rd">10</text>
<text x="466.6" y="221.2" text-anchor="middle" class="rd">8</text>
<text x="475.4" y="287.3" text-anchor="middle" class="rd">6</text>
<text x="502.9" y="63.5" text-anchor="middle" class="rd">7</text>
<text x="459.9" y="141.5" text-anchor="middle" class="rd">9</text>
<text x="523.0" y="162.6" text-anchor="middle" class="rd">2</text>
<text x="548.7" y="190.5" text-anchor="middle" class="rd">5</text>
<text x="451.9" y="440.7" text-anchor="middle" class="lb" textLength="157.4">Global mean T difference (K)</text>
<text transform="translate(309.7 220.7) rotate(-90)" text-anchor="middle" class="lb" textLength="162.6">Global mean P difference (%)</text>
<text x="531.1" y="396.4" class="pn">(b)</text>
<rect x="340.6" y="31.0" width="111.9" height="23.1" fill="#fff" stroke="#000" stroke-width="1"/>
<circle cx="355" cy="37.1" r="6.2" fill="none" stroke="#35e82e" stroke-width="1.1"/>
<circle cx="355" cy="47.7" r="6.2" fill="none" stroke="#1f3cff" stroke-width="1.1"/>
<text x="367.6" y="40.5" class="lg" textLength="75.9">RCP 4.5 – Historical</text>
<text x="367.6" y="51.0" class="lg" textLength="75.9">RCP 8.5 – Historical</text>
<text x="382.9" y="13.0" class="tt">P</text>
<text x="391.4" y="19.5" class="sb">2080–2100</text>
<text x="445.8" y="12.9" class="tt">–</text>
<text x="457.9" y="13.0" class="tt">P</text>
<text x="467.2" y="19.5" class="sb">1985–2005</text>
</g>
</svg>
</body></html>
